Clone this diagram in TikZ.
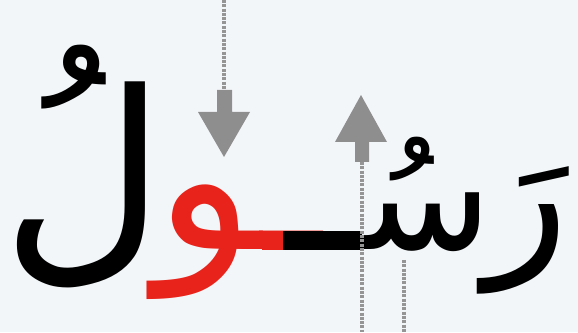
\documentclass[tikz,border=0pt]{standalone}
\usepackage{fontspec}
\newfontfamily\arabicfont[Script=Arabic]{DejaVu Sans}
\TeXXeTstate=1
\definecolor{bg}{HTML}{F3F6F9}
\definecolor{arrowgray}{HTML}{8E8E8E}
\definecolor{dotgray}{HTML}{959595}
\definecolor{wawred}{HTML}{E8231B}
\tikzset{
  glyph/.style={inner sep=0pt, outer sep=0pt, anchor=base},
  dotline/.style={dotgray, line width=3.5pt, dash pattern=on 3pt off 1.3pt},
  blockarrow/.style={fill=arrowgray, draw=none}
}
\begin{document}
\begin{tikzpicture}[x=1pt,y=1pt]
\fill[bg] (0,0) rectangle (578,332);
\useasboundingbox (0,0) rectangle (578,332);
% letters
\node[glyph, font=\arabicfont\fontsize{226}{226}\selectfont] (lam) at (84,78) {\beginR لُ\endR};
\node[glyph, text=wawred, font=\arabicfont\fontsize{205}{205}\selectfont] (waw) at (238,82) {\beginR ـو\endR};
\node[glyph, font=\arabicfont\fontsize{155}{155}\selectfont] (sin) at (405,82) {\beginR سُـ\endR};
\node[glyph, font=\arabicfont\fontsize{175}{175}\selectfont] (ra) at (527,80) {\beginR رَ\endR};
% kashida bars
\fill[wawred] (262,82) rectangle (283,101);
\fill[black] (283,82) rectangle (362,101);
% down arrow
\coordinate (dtop) at (224,332);
\coordinate (dbot) at (224,242);
\draw[dotline] (dtop) -- (dbot);
\fill[blockarrow] (217,242) -- (232,242) -- (232,220) -- (250,220) -- (224,175) -- (198,220) -- (217,220) -- cycle;
% up arrow
\coordinate (utop) at (362,170);
\coordinate (ubot) at (362,0);
\draw[dotline] (utop) -- (ubot);
\fill[blockarrow] (355,170) -- (369,170) -- (369,190) -- (387,190) -- (361,237) -- (335,190) -- (355,190) -- cycle;
% second dotted line
\coordinate (stop) at (404,72);
\coordinate (sbot) at (404,0);
\draw[dotline] (stop) -- (sbot);
\end{tikzpicture}
\end{document}
